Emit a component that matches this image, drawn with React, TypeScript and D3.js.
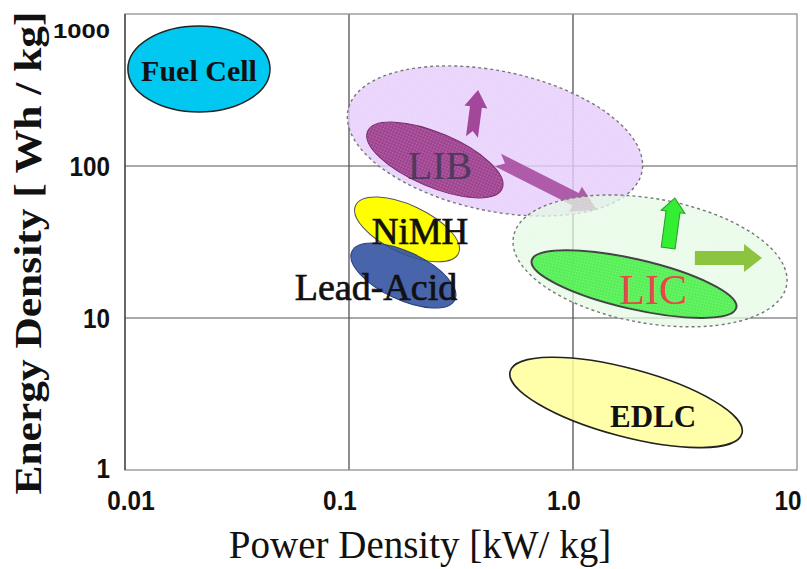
import React from "react";
import * as d3 from "d3";

// axis ticks
const powerTicks = [0.01, 0.1, 1, 10];
const powerTickLabels = ["0.01", "0.1", "1.0", "10"];
const energyTicks = [1, 10, 100, 1000];
const energyTickLabels = ["1", "10", "100", "1000"];

// regions: major axis from (powerFrom, energyFrom) to (powerTo, energyTo), half-thickness in energy decades
const regionNames = ["LIB target", "LIB", "LIC target", "LIC", "NiMH", "Lead-Acid", "Fuel Cell", "EDLC"];
const powerFrom = [0.099, 0.121, 0.542, 0.654, 0.107, 0.103, 0.0103, 0.524];
const energyFrom = [233.5, 168.7, 34.2, 23.9, 55.0, 27.4, 435, 4.45];
const powerTo = [2.03, 0.483, 8.99, 5.36, 0.308, 0.297, 0.0444, 5.68];
const energyTo = [91.4, 71.1, 16.5, 11.7, 26.6, 13.2, 435, 1.74];
const spreadDecades = [0.46, 0.178, 0.41, 0.164, 0.158, 0.158, 0.283, 0.224];

// labels
const labelText = ["Fuel Cell", "LIB", "LIC", "NiMH", "Lead-Acid", "EDLC"];
const labelPower = [0.0214, 0.2547, 2.28, 0.2075, 0.132, 2.28];
const labelEnergy = [428, 101.6, 15.5, 37.4, 16.0, 2.27];

// development arrows (tail -> tip)
const arrowNames = ["LIB up", "LIB to LIC", "LIC up", "LIC right"];
const arrowPowerFrom = [0.354, 0.462, 2.66, 3.5];
const arrowEnergyFrom = [155, 109.5, 28.9, 24.8];
const arrowPowerTo = [0.377, 1.28, 2.85, 6.98];
const arrowEnergyTo = [316, 51.4, 61.6, 24.8];

const W = 807;
const H = 569;
const serif = "'Liberation Serif', 'Times New Roman', serif";
const sans = "'Liberation Sans', Arial, sans-serif";

const regionStyle: Record<string, any> = {
  "LIB target": { fill: "#e3c8fb", opacity: 0.8, stroke: "#777", dash: "3,3", sw: 1.4, mesh: true },
  LIB: { fill: "#9d3f8e", opacity: 1, stroke: "#7a2c6e", sw: 1, mesh: true },
  "LIC target": { fill: "#e2fae2", opacity: 0.72, stroke: "#777", dash: "3,3", sw: 1.4, mesh: true },
  LIC: { fill: "#44ee44", opacity: 0.92, stroke: "#444", sw: 2, mesh: true },
  NiMH: { fill: "#ffff00", opacity: 1, stroke: "#555", sw: 1 },
  "Lead-Acid": { fill: "#2f4f9f", opacity: 0.88, stroke: "#2a3f7f", sw: 1 },
  "Fuel Cell": { fill: "#00c8f0", opacity: 1, stroke: "#222", sw: 1.5 },
  EDLC: { fill: "#ffff9a", opacity: 0.85, stroke: "#222", sw: 1.6 },
};

const labelStyle: Record<string, any> = {
  "Fuel Cell": { size: 30, weight: "bold", color: "#111", thick: 0 },
  LIB: { size: 40, weight: "normal", color: "#4e3a5e", thick: 0 },
  LIC: { size: 42, weight: "normal", color: "#e84848", thick: 0 },
  NiMH: { size: 37, weight: "normal", color: "#111", thick: 0.7 },
  "Lead-Acid": { size: 38, weight: "normal", color: "#111", thick: 0.7 },
  EDLC: { size: 31, weight: "bold", color: "#111", thick: 0 },
};

const arrowStyle: Record<string, any> = {
  "LIB up": { fill: "#a3479a", shaft: 12, head: 23, headLen: 17, notch: 6, opacity: 1 },
  "LIB to LIC": { fill: "#a3479a", shaft: 14, head: 28, headLen: 24, notch: 8, opacity: 0.85 },
  "LIC up": { fill: "#33ee33", stroke: "#2a9a2a", shaft: 14, head: 24, headLen: 14, notch: 0, opacity: 1 },
  "LIC right": { fill: "#8dc43f", shaft: 14, head: 28, headLen: 18, notch: 0, opacity: 1 },
};

function arrowPoints(L: number, s: any) {
  const w = s.shaft / 2;
  const h = s.head / 2;
  const b = L - s.headLen;
  return [
    [0, -w], [b, -w], [b, -h], [L, 0], [b, h], [b, w], [0, w], [s.notch, 0],
  ].map((p) => p.join(",")).join(" ");
}

export default function App() {
  const x = d3.scaleLog().domain([0.01, 10]).range([125, 797]);
  const y = d3.scaleLog().domain([1, 1000]).range([470, 14]);
  const decadeY = y(1) - y(10);

  const regions = regionNames.map((name, i) => {
    const x1 = x(powerFrom[i]), y1 = y(energyFrom[i]);
    const x2 = x(powerTo[i]), y2 = y(energyTo[i]);
    return {
      name,
      cx: (x1 + x2) / 2,
      cy: (y1 + y2) / 2,
      rx: Math.hypot(x2 - x1, y2 - y1) / 2,
      ry: spreadDecades[i] * decadeY,
      angle: (Math.atan2(y2 - y1, x2 - x1) * 180) / Math.PI,
    };
  });

  const arrows = arrowNames.map((name, i) => {
    const x1 = x(arrowPowerFrom[i]), y1 = y(arrowEnergyFrom[i]);
    const x2 = x(arrowPowerTo[i]), y2 = y(arrowEnergyTo[i]);
    return {
      name,
      x1, y1,
      L: Math.hypot(x2 - x1, y2 - y1),
      angle: (Math.atan2(y2 - y1, x2 - x1) * 180) / Math.PI,
    };
  });

  const drawRegion = (name: string) => {
    const r = regions.find((d) => d.name === name)!;
    const s = regionStyle[name];
    const tf = `translate(${r.cx},${r.cy}) rotate(${r.angle})`;
    return (
      <g key={name} transform={tf}>
        <ellipse rx={r.rx} ry={r.ry} fill={s.fill} fillOpacity={s.opacity} />
        {s.mesh && <ellipse rx={r.rx} ry={r.ry} fill="url(#mesh)" />}
        <ellipse rx={r.rx} ry={r.ry} fill="none" stroke={s.stroke} strokeWidth={s.sw} strokeDasharray={s.dash} />
      </g>
    );
  };

  const drawArrow = (name: string) => {
    const a = arrows.find((d) => d.name === name)!;
    const s = arrowStyle[name];
    return (
      <polygon
        key={name}
        transform={`translate(${a.x1},${a.y1}) rotate(${a.angle})`}
        points={arrowPoints(a.L, s)}
        fill={s.fill}
        fillOpacity={s.opacity}
        stroke={s.stroke || "none"}
        strokeWidth={1}
      />
    );
  };

  const drawLabel = (i: number) => {
    const s = labelStyle[labelText[i]];
    return (
      <text
        key={labelText[i]}
        x={x(labelPower[i])}
        y={y(labelEnergy[i])}
        dy="0.35em"
        textAnchor="middle"
        fontFamily={serif}
        fontSize={s.size}
        fontWeight={s.weight}
        fill={s.color}
        stroke={s.thick ? s.color : "none"}
        strokeWidth={s.thick}
      >
        {labelText[i]}
      </text>
    );
  };

  return (
    <svg width={W} height={H} style={{ position: "absolute", left: 0, top: 0, background: "#fff" }}>
      <defs>
        <pattern id="mesh" width={3} height={3} patternUnits="userSpaceOnUse">
          <path d="M0 0.5H3M0.5 0V3" stroke="#ffffff" strokeOpacity={0.18} strokeWidth={0.6} />
        </pattern>
      </defs>

      {/* grid */}
      {powerTicks.slice(1, -1).map((t) => (
        <line key={"gx" + t} x1={x(t)} x2={x(t)} y1={y(1000)} y2={y(1)} stroke="#444" strokeWidth={1.2} />
      ))}
      {energyTicks.slice(1, -1).map((t) => (
        <line key={"gy" + t} x1={x(0.01)} x2={x(10)} y1={y(t)} y2={y(t)} stroke="#555" strokeWidth={1.2} />
      ))}
      <rect x={x(0.01)} y={y(1000)} width={x(10) - x(0.01)} height={y(1) - y(1000)} fill="none" stroke="#888" strokeWidth={1.2} />
      <line x1={x(0.01)} x2={x(0.01)} y1={y(1000)} y2={y(1)} stroke="#333" strokeWidth={1.2} />

      {drawRegion("LIB target")}
      {drawRegion("LIB")}
      {drawArrow("LIB up")}
      {drawArrow("LIB to LIC")}
      {drawRegion("LIC target")}
      {drawRegion("LIC")}
      {drawArrow("LIC up")}
      {drawArrow("LIC right")}
      {drawRegion("NiMH")}
      {drawRegion("Lead-Acid")}
      {drawRegion("Fuel Cell")}
      {drawRegion("EDLC")}

      {labelText.map((_, i) => drawLabel(i))}

      {/* y tick labels */}
      {energyTicks.map((t, i) => {
        const by = Math.min(Math.max(y(t) + 10, 38), 478);
        const big = t === 1000;
        return (
          <text
            key={"ty" + t}
            transform={`translate(110,${by}) scale(${big ? 1.22 : 0.9},1)`}
            textAnchor="end"
            fontFamily={sans}
            fontWeight="bold"
            fontSize={big ? 21 : 27}
            fill="#111"
          >
            {energyTickLabels[i]}
          </text>
        );
      })}

      {/* x tick labels */}
      {powerTicks.map((t, i) => (
        <text
          key={"tx" + t}
          transform={`translate(${Math.max(x(t) - 9, 131)},510) scale(0.9,1)`}
          textAnchor="middle"
          fontFamily={sans}
          fontWeight="bold"
          fontSize={27}
          fill="#111"
        >
          {powerTickLabels[i]}
        </text>
      ))}

      {/* axis titles */}
      <text x={420} y={558} textAnchor="middle" fontFamily={serif} fontSize={39} fill="#111">
        Power Density [kW/ kg]
      </text>
      <text
        transform="translate(41,253) rotate(-90)"
        textAnchor="middle"
        fontFamily={serif}
        fontWeight="bold"
        fontSize={38}
        textLength={483}
        lengthAdjust="spacingAndGlyphs"
        fill="#111"
      >
        Energy Density [ Wh / kg]
      </text>
    </svg>
  );
}
